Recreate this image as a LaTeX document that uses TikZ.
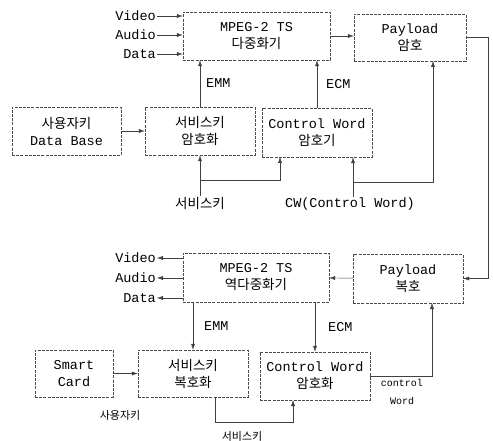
\documentclass[tikz,border=0pt]{standalone}
\usepackage{fontspec}
\setmainfont{Liberation Mono}
\newfontfamily\kr{Noto Sans CJK KR}
\usetikzlibrary{arrows.meta, positioning}
\tikzstyle{block} = [rectangle, draw=black!70, dash pattern=on 3pt off 1.2pt, thin, text centered, align=center, inner sep=0pt, font=\fontsize{13.5}{17}\selectfont]
\tikzstyle{arrow} = [thin, draw=black!75, -{Latex[length=6pt,width=4pt]}]
\tikzstyle{line} = [thin, draw=black!75]
\tikzstyle{lbl} = [inner sep=1pt, font=\fontsize{13.5}{16}\selectfont]

\begin{document}
\begin{tikzpicture}[x=1pt, y=-1pt]
\useasboundingbox (0,0) rectangle (493,441);

% scrambling side
\node (mux) [block, minimum width=147pt, minimum height=48pt] at (256.5,36) {MPEG-2 TS\\{\kr 다중화기}};
\node (penc) [block, minimum width=112pt, minimum height=47pt] at (410,37.5) {Payload\\{\kr 암호}};
\node (userdb) [block, minimum width=109pt, minimum height=48pt] at (66.5,131) {{\kr 사용자키}\\Data Base};
\node (skenc) [block, minimum width=110pt, minimum height=48pt] at (200,131) {{\kr 서비스키}\\{\kr 암호화}};
\node (cwenc) [block, minimum width=110pt, minimum height=49pt] at (317,132.5) {Control Word\\{\kr 암호기}};

\node (vin) [lbl, anchor=east] at (157,16) {Video};
\node (ain) [lbl, anchor=east] at (157,35) {Audio};
\node (din) [lbl, anchor=east] at (157,54) {Data};
\node (skey) [lbl] at (200,203) {\kr 서비스키};
\node (cw) [lbl] at (350,204) {CW(Control Word)};

\draw [arrow] (vin) -- (vin -| mux.west);
\draw [arrow] (ain) -- (ain -| mux.west);
\draw [arrow] (din) -- (din -| mux.west);
\draw [arrow] (mux) -- (mux -| penc.west);
\draw [arrow] (userdb) -- (skenc);
\draw [arrow] (skenc.north) -- node[lbl, anchor=west, xshift=5pt] {EMM} (skenc.north |- mux.south);
\draw [arrow] (cwenc.north) -- node[lbl, anchor=west, xshift=8pt] {ECM} (cwenc.north |- mux.south);

\coordinate (skbr) at (200,180);
\coordinate (cwbr) at (353,182);
\draw [arrow] (skey) -- (skenc);
\draw [arrow] (skbr) -| (280,157);
\draw [arrow] (cwbr |- cw.north) -- (cwbr |- cwenc.south);
\draw [arrow] (cwbr) -| (433,61);

% descrambling side
\node (demux) [block, minimum width=146pt, minimum height=49pt] at (256,277.5) {MPEG-2 TS\\{\kr 역다중화기}};
\node (pdec) [block, minimum width=110pt, minimum height=49pt] at (408,278.5) {Payload\\{\kr 복호}};
\node (card) [block, minimum width=78pt, minimum height=47pt] at (74,373.5) {Smart\\Card};
\node (skdec) [block, minimum width=110pt, minimum height=47pt] at (193,373.5) {{\kr 서비스키}\\{\kr 복호화}};
\node (cwdec) [block, minimum width=110pt, minimum height=48pt] at (315,376) {Control Word\\{\kr 암호화}};

\node (vout) [lbl, anchor=east] at (157,258) {Video};
\node (aout) [lbl, anchor=east] at (157,278) {Audio};
\node (dout) [lbl, anchor=east] at (157,298) {Data};
\node (ukey) [lbl, font=\fontsize{11}{13}\selectfont] at (120,415) {\kr 사용자키};
\node (skey2) [lbl, font=\fontsize{11}{13}\selectfont] at (242,436) {\kr 서비스키};
\node (cwtxt) [lbl, align=center, font=\fontsize{10}{18}\selectfont] at (402,392) {control\\Word};

% link between the two sides
\draw [arrow] (penc.east) -- (488,37.5) |- (pdec.east);

\draw [arrow] (pdec) -- (demux);
\draw [arrow] (vout -| demux.west) -- (vout);
\draw [arrow] (aout -| demux.west) -- (aout);
\draw [arrow] (dout -| demux.west) -- (dout);
\draw [arrow] (skdec.north |- demux.south) -- node[lbl, anchor=west, xshift=10pt] {EMM} (skdec.north);
\draw [arrow] (cwdec.north |- demux.south) -- node[lbl, anchor=west, xshift=12pt] {ECM} (cwdec.north);
\draw [arrow] (card) -- (skdec);

\coordinate (skout) at (215,422);
\draw [arrow] (skout |- skdec.south) -- (skout) -| (293,400);
\draw [arrow] (cwdec.east) -| (432,303);

\end{tikzpicture}
\end{document}
